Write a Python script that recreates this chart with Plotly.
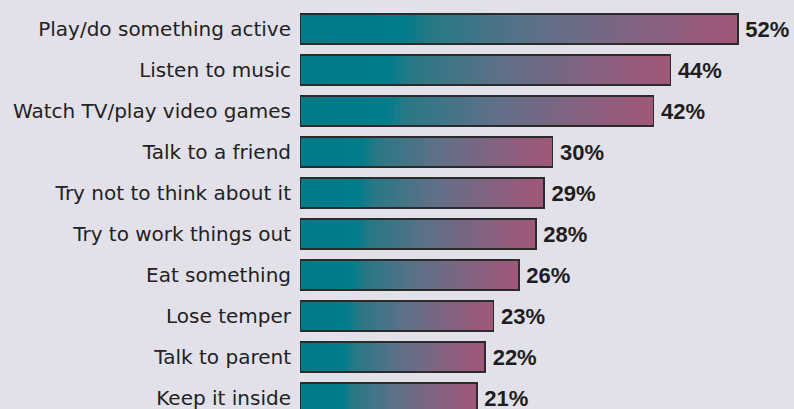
import plotly.graph_objects as go

categories = [
    "Play/do something active",
    "Listen to music",
    "Watch TV/play video games",
    "Talk to a friend",
    "Try not to think about it",
    "Try to work things out",
    "Eat something",
    "Lose temper",
    "Talk to parent",
    "Keep it inside",
]
values = [52, 44, 42, 30, 29, 28, 26, 23, 22, 21]

# gradient colour stops (fraction of bar length, rgb)
stops = [(0.0, (2, 122, 136)), (0.24, (0, 124, 138)), (0.30, (40, 120, 134)),
         (0.55, (95, 112, 136)), (0.80, (135, 98, 128)), (0.95, (156, 88, 122)),
         (1.0, (158, 88, 122))]

def color_at(f):
    for (f0, c0), (f1, c1) in zip(stops[:-1], stops[1:]):
        if f0 <= f <= f1:
            t = 0 if f1 == f0 else (f - f0) / (f1 - f0)
            c = [round(a + (b - a) * t) for a, b in zip(c0, c1)]
            return "rgb(%d,%d,%d)" % tuple(c)
    return "rgb(%d,%d,%d)" % stops[-1][1]

N = 60
BAR_W = 0.73
fig = go.Figure()
for k in range(N):
    col = color_at((k + 0.5) / N)
    fig.add_trace(go.Bar(
        y=categories, x=[v / N for v in values], orientation="h",
        width=BAR_W, marker=dict(color=col, line=dict(color=col, width=0.6)),
        hoverinfo="skip", showlegend=False, xaxis="x", yaxis="y",
    ))

fig.add_trace(go.Bar(
    y=categories, x=values, orientation="h", width=BAR_W,
    marker=dict(color="rgba(0,0,0,0)", line=dict(color="#2b2b2b", width=1.6)),
    text=[f"\u2009{v}%" for v in values], textposition="outside",
    constraintext="none",
    textfont=dict(family="Liberation Sans", size=22, color="#1e1e1e", weight="bold"),
    showlegend=False, xaxis="x2", yaxis="y", cliponaxis=False,
))

XMAX = 494 / 8.42
YR = [9 + 11 / 41, -29 / 41]
fig.update_layout(
    width=794, height=409,
    margin=dict(l=300, r=0, t=0, b=0),
    paper_bgcolor="#e2e0e9", plot_bgcolor="rgba(0,0,0,0)",
    barmode="stack",
    xaxis=dict(range=[0, XMAX], visible=False, fixedrange=True),
    xaxis2=dict(range=[0, XMAX], visible=False, overlaying="x", fixedrange=True),
    yaxis=dict(range=YR, showgrid=False, zeroline=False, showline=False, ticks="",
               tickfont=dict(family="DejaVu Sans", size=20, color="#222222"),
               ticklabelstandoff=8, fixedrange=True),
)
fig.write_html("out.html", config={"displayModeBar": False, "staticPlot": True},
               post_script="document.body.style.margin='0';document.body.style.overflow='hidden';")
